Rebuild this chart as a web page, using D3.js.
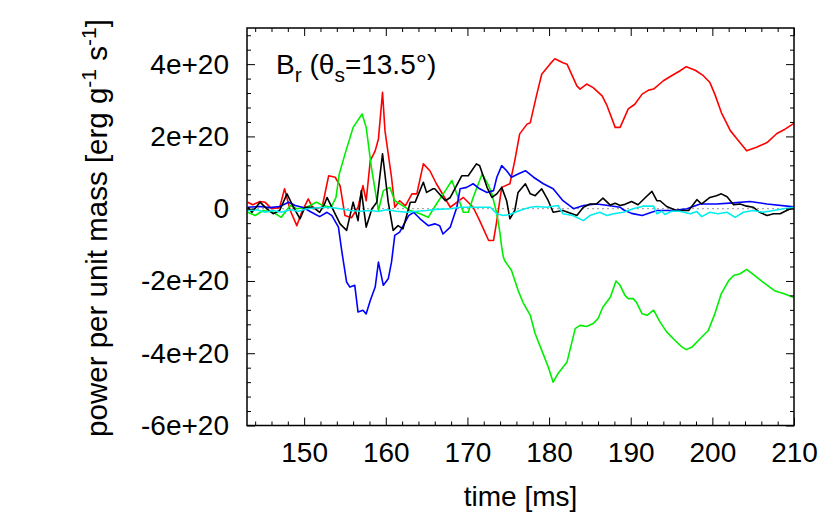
<!DOCTYPE html>
<html><head><meta charset="utf-8">
<script src="https://cdn.jsdelivr.net/npm/d3@7"></script>
<style>
html,body{margin:0;padding:0;background:#fff;}
svg text{font-family:"Liberation Sans",Arial,Helvetica,sans-serif;fill:#000;}
</style></head>
<body><svg id="c" width="830" height="515"></svg>
<script>
const UNIT = 1e20;
const xTicks = [150,160,170,180,190,200,210];
const yTicks = [-6e20,-4e20,-2e20,0,2e20,4e20];
const yTickLabels = ["-6e+20","-4e+20","-2e+20","0","2e+20","4e+20"];

const redT = [143.1,143.7,144.6,145.2,146.0,147.0,147.6,148.3,149.1,149.7,150.5,151.1,152.2,153.0,153.8,154.4,155.0,155.8,156.6,157.2,157.6,158.1,158.7,159.1,159.6,159.9,160.7,161.1,161.7,162.4,163.2,163.8,164.6,165.4,166.2,167.9,169.5,170.7,171.5,172.6,173.2,173.6,174.2,175.2,175.8,176.4,177.3,177.7,178.5,179.1,180.1,180.7,181.7,182.2,183.4,183.8,184.6,185.4,186.5,187.1,188.1,188.7,189.7,190.5,191.4,192.2,192.8,194.0,195.0,196.0,196.8,197.9,198.9,199.7,200.3,201.1,202.2,203.2,204.2,205.4,206.7,207.9,208.9,210.0];
const redV = [0.18,0.11,0.2,0.18,0.0,0.03,0.55,-0.05,-0.47,-0.1,0.27,0.0,0.04,0.91,0.87,0.64,-0.19,-0.25,0.04,0.64,0.22,1.33,1.6,1.93,3.22,2.16,0.87,0.04,0.22,0.08,0.41,0.41,1.24,1.05,0.69,0.04,0.31,0.04,-0.33,-0.88,-0.88,-0.33,0.59,0.69,1.33,2.07,2.34,2.38,3.17,3.72,4.0,4.15,4.04,4.0,3.4,3.31,3.45,3.35,3.12,2.85,2.25,2.25,2.76,2.89,3.17,3.28,3.31,3.54,3.68,3.81,3.93,3.83,3.68,3.49,3.17,2.66,2.16,1.88,1.6,1.7,1.83,2.08,2.2,2.36];

const greenT = [143.1,144.0,145.0,146.2,147.2,148.3,149.1,150.3,151.5,152.3,153.3,153.9,154.3,155.0,156.0,157.1,157.6,158.1,158.3,159.1,159.7,160.5,161.1,162.0,163.0,164.2,165.2,166.2,167.3,168.1,168.7,169.5,170.1,170.7,171.8,172.6,173.0,173.6,174.0,174.2,174.4,174.6,175.4,176.2,176.8,177.7,178.3,179.1,179.9,180.5,181.1,182.2,183.2,183.8,184.6,185.4,186.0,186.6,187.5,188.2,188.7,189.3,189.7,190.3,190.7,191.4,192.0,192.8,193.6,194.4,195.4,196.3,196.8,197.5,198.5,199.5,200.3,201.1,202.0,202.6,203.4,204.2,205.2,206.2,207.7,208.7,210.0];
const greenV = [-0.1,-0.19,-0.05,-0.1,-0.24,0.09,0.0,0.04,0.18,0.09,0.04,0.31,0.96,1.51,2.25,2.62,2.25,1.38,1.05,-0.05,0.5,0.59,0.22,0.09,-0.05,-0.14,-0.24,0.13,0.5,0.78,0.41,-0.1,-0.1,0.31,0.96,0.64,0.41,-0.14,-0.7,-1.07,-1.34,-1.45,-1.71,-2.26,-2.59,-2.95,-3.46,-3.92,-4.38,-4.8,-4.56,-4.24,-3.32,-3.23,-3.26,-3.18,-3.04,-2.72,-2.45,-2.0,-2.12,-2.4,-2.49,-2.49,-2.59,-2.91,-2.95,-2.81,-3.14,-3.41,-3.64,-3.83,-3.9,-3.83,-3.6,-3.37,-2.91,-2.35,-1.99,-1.85,-1.8,-1.68,-1.85,-2.03,-2.28,-2.35,-2.46];

const blueT = [143.1,144.6,145.8,147.0,148.1,148.9,149.9,150.9,151.9,152.8,153.4,154.2,154.6,155.2,155.6,156.2,156.6,157.2,157.6,158.1,158.7,159.1,159.7,160.3,160.7,161.1,161.7,162.8,163.4,164.2,165.2,166.0,166.6,167.0,167.9,168.7,169.1,169.9,170.7,171.5,172.4,173.2,173.6,174.2,174.8,175.4,176.2,177.1,178.1,179.3,180.5,181.7,183.0,184.2,185.8,186.8,188.7,189.1,190.1,191.4,193.2,195.2,196.9,198.5,200.5,202.6,204.6,206.7,210.0];
const blueV = [0.04,0.06,0.03,0.06,0.18,0.09,0.03,-0.1,-0.22,-0.1,-0.19,-0.51,-1.16,-2.03,-2.17,-2.12,-2.86,-2.81,-2.91,-2.54,-2.17,-1.48,-2.12,-1.94,-1.48,-0.74,-0.65,-0.19,-0.1,-0.28,-0.47,-0.42,-0.47,-0.7,-0.51,0.04,0.55,0.59,0.69,0.55,0.45,0.5,0.87,1.19,1.05,0.87,0.96,1.05,0.87,0.69,0.55,0.22,0.0,0.09,0.13,0.1,0.04,-0.03,-0.13,-0.19,-0.05,-0.05,0.0,0.13,0.13,0.16,0.2,0.13,0.05];

const blackT = [143.1,143.6,144.6,145.4,146.2,147.0,147.9,148.7,149.5,150.1,151.1,151.9,152.5,152.8,154.4,155.2,156.0,156.6,157.0,157.6,158.3,158.9,159.6,160.3,160.9,161.5,162.1,163.0,163.6,164.6,165.0,165.8,166.0,167.3,167.9,169.3,170.1,171.1,171.5,172.4,173.0,173.6,174.2,174.8,175.2,175.8,176.2,177.1,177.7,178.3,179.1,179.9,180.5,181.7,183.4,184.2,185.0,185.8,186.6,187.5,188.1,188.7,189.3,190.1,190.9,191.8,192.6,193.2,193.6,194.4,195.6,197.1,198.1,198.7,199.7,200.5,201.1,201.8,202.6,203.4,204.2,205.0,205.8,206.7,207.5,208.3,209.1,210.0];
const blackV = [0.04,-0.1,0.18,0.0,-0.14,-0.05,0.41,0.04,-0.28,0.04,0.04,-0.1,0.13,0.31,-0.42,-0.6,0.18,-0.33,0.5,-0.51,0.0,0.18,1.52,0.18,-0.6,-0.47,-0.56,0.18,0.18,0.73,0.45,0.55,0.55,0.22,0.31,0.91,0.91,1.24,1.19,0.59,0.31,0.41,0.59,0.22,-0.28,-0.05,0.45,0.69,0.41,0.36,0.55,0.22,-0.1,-0.05,-0.19,0.04,0.13,0.13,0.29,0.1,0.15,0.09,0.12,0.2,0.11,0.31,0.48,0.22,0.22,0.06,-0.05,-0.05,0.25,0.13,0.31,0.36,0.41,0.33,0.11,0.13,0.07,0.04,-0.1,-0.19,-0.14,-0.14,-0.05,0.04];

const cyanT = [143.1,144.2,145.2,146.2,147.2,148.3,149.3,150.3,151.3,152.8,153.8,154.4,155.6,156.8,158.1,159.1,160.1,161.3,162.6,163.8,165.0,166.2,167.9,169.1,170.3,171.5,172.8,173.6,174.4,175.2,176.4,177.7,178.5,179.7,181.1,181.7,182.9,184.2,185.0,186.2,187.1,187.9,189.1,190.3,191.5,192.8,193.2,193.8,194.2,195.0,196.0,197.3,198.1,198.7,199.7,200.7,201.8,202.8,203.8,205.0,206.2,207.5,208.7,210.0];
const cyanV = [-0.05,-0.03,-0.1,-0.05,-0.1,-0.03,-0.07,0.0,0.02,0.04,0.02,0.0,-0.05,-0.07,-0.05,-0.08,-0.03,-0.07,-0.1,-0.07,-0.05,-0.02,0.0,0.04,0.04,0.04,0.04,-0.14,-0.19,-0.16,-0.05,0.04,0.06,0.04,0.09,-0.14,-0.19,-0.33,-0.19,-0.1,-0.19,-0.14,-0.1,0.0,0.07,0.07,-0.14,-0.07,-0.16,-0.07,-0.07,-0.14,-0.08,-0.22,-0.1,-0.14,-0.1,-0.24,-0.1,-0.05,-0.1,-0.05,0.0,0.04];

const series = [
  {t: redT, v: redV, color: "#ff0000"},
  {t: greenT, v: greenV, color: "#00ee00"},
  {t: blueT, v: blueV, color: "#0000ff"},
  {t: blackT, v: blackV, color: "#000000"},
  {t: cyanT, v: cyanV, color: "#00eeee"}
];

const L = 247, R = 794, T = 28, B = 425.5;
const svg = d3.select("#c");
const x = d3.scaleLinear().domain([143, 210]).range([L, R]);
const y = d3.scaleLinear().domain([-6e20, 5e20]).range([B, T]);

svg.append("line").attr("x1", L).attr("x2", R).attr("y1", y(0)).attr("y2", y(0))
  .attr("stroke", "#999").attr("stroke-width", 1).attr("stroke-dasharray", "2,3");

const line = d3.line().x(d => x(d[0])).y(d => y(d[1] * UNIT));
const plot = svg.append("g");
series.forEach(s => {
  const pts = s.t.map((t, i) => [t, s.v[i]]);
  plot.append("path").datum(pts).attr("d", line).attr("fill", "none")
    .attr("stroke", s.color).attr("stroke-width", 1.6).attr("stroke-linejoin", "round");
});

const minorX = d3.range(144, 210, 2).filter(v => v % 10 !== 0);
const minorY = d3.range(-56, 50, 4).map(v => v * 1e19).filter(v => Math.abs(v / 2e20 - Math.round(v / 2e20)) > 1e-6);

function styleAxis(g) {
  g.select(".domain").remove();
  g.selectAll(".tick line").attr("stroke", "#000").attr("stroke-width", 1);
  g.selectAll(".tick text").style("font-size", "28px").attr("fill", "#000");
}

svg.append("g").attr("transform", `translate(0,${B})`)
  .call(d3.axisBottom(x).tickValues(xTicks).tickSize(-8).tickPadding(17).tickFormat(d3.format("d"))).call(styleAxis);
svg.append("g").attr("transform", `translate(0,${B})`)
  .call(d3.axisBottom(x).tickValues(minorX).tickSize(-4).tickFormat("")).call(styleAxis);
svg.append("g").attr("transform", `translate(0,${T})`)
  .call(d3.axisTop(x).tickValues(xTicks).tickSize(-8).tickFormat("")).call(styleAxis);
svg.append("g").attr("transform", `translate(0,${T})`)
  .call(d3.axisTop(x).tickValues(minorX).tickSize(-4).tickFormat("")).call(styleAxis);

svg.append("g").attr("transform", `translate(${L},0)`)
  .call(d3.axisLeft(y).tickValues(yTicks).tickSize(-8).tickPadding(18)
    .tickFormat((d, i) => yTickLabels[i])).call(styleAxis);
svg.append("g").attr("transform", `translate(${L},0)`)
  .call(d3.axisLeft(y).tickValues(minorY).tickSize(-4).tickFormat("")).call(styleAxis);
svg.append("g").attr("transform", `translate(${R},0)`)
  .call(d3.axisRight(y).tickValues(yTicks).tickSize(-8).tickFormat("")).call(styleAxis);
svg.append("g").attr("transform", `translate(${R},0)`)
  .call(d3.axisRight(y).tickValues(minorY).tickSize(-4).tickFormat("")).call(styleAxis);

svg.append("rect").attr("x", L).attr("y", T).attr("width", R - L).attr("height", B - T)
  .attr("fill", "none").attr("stroke", "#000").attr("stroke-width", 1.5);

const title = svg.append("text").attr("x", 276).attr("y", 74).style("font-size", "28px");
title.append("tspan").text("B");
title.append("tspan").attr("dy", 8).style("font-size", "21px").text("r");
title.append("tspan").attr("dy", -8).text(" (θ");
title.append("tspan").attr("dy", 8).style("font-size", "21px").text("s");
title.append("tspan").attr("dy", -8).text("=13.5°)");

svg.append("text").attr("x", (L + R) / 2).attr("y", 506).attr("text-anchor", "middle")
  .style("font-size", "28px").text("time [ms]");
const yl = svg.append("text").attr("transform", "translate(107,228) rotate(-90)")
  .attr("text-anchor", "middle").style("font-size", "29.5px");
yl.append("tspan").text("power per unit mass [erg g");
yl.append("tspan").attr("dy", -11).style("font-size", "21px").text("-1");
yl.append("tspan").attr("dy", 11).text(" s");
yl.append("tspan").attr("dy", -11).style("font-size", "21px").text("-1");
yl.append("tspan").attr("dy", 11).text("]");
</script></body></html>
